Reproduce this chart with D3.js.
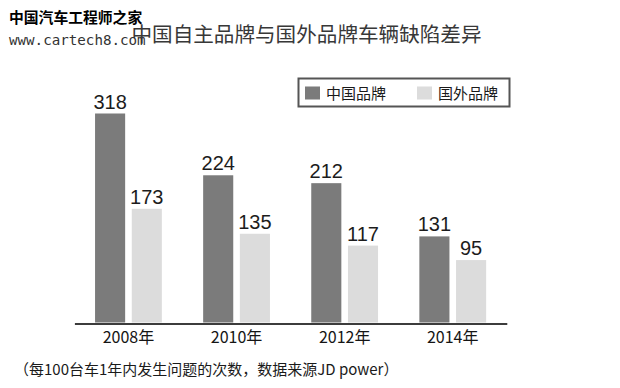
<!DOCTYPE html>
<html>
<head>
<meta charset="utf-8">
<script src="https://cdn.jsdelivr.net/npm/d3@7"></script>
<style>
  html, body { margin: 0; padding: 0; background: #fff; }
  svg { display: block; }
</style>
</head>
<body>
<div id="chart"></div>
<script>
// data
const years = ["2008年", "2010年", "2012年", "2014年"];
const seriesNames = ["中国品牌", "国外品牌"];
const chinaBrands = [318, 224, 212, 131];
const foreignBrands = [173, 135, 117, 95];
const seriesColors = ["#7b7b7b", "#dcdcdc"];

const w = 620, h = 388;
const cjk = "'Noto Sans CJK SC', 'Noto Sans', sans-serif";

const rows = years.map((yr, i) => ({ year: yr, values: [chinaBrands[i], foreignBrands[i]] }));

const svg = d3.select("#chart").append("svg")
  .attr("width", w)
  .attr("height", h)
  .attr("viewBox", [0, 0, w, h]);

//
const x0 = d3.scaleBand().domain(years).range([74.4, 506.8]).padding(0);
const x1 = d3.scaleBand().domain(seriesNames).range([-33.4, 33.4]).paddingInner(0.18);
const y = d3.scaleLinear().domain([0, d3.max(chinaBrands)]).range([322.5, 113.5]);

// bars
const groups = svg.append("g").attr("class", "bars")
  .selectAll("g")
  .data(rows)
  .join("g")
  .attr("transform", d => `translate(${x0(d.year) + x0.bandwidth() / 2},0)`);

groups.selectAll("rect")
  .data(d => d.values.map((v, k) => ({ key: seriesNames[k], value: v, k })))
  .join("rect")
  .attr("x", d => x1(d.key))
  .attr("y", d => y(d.value))
  .attr("width", x1.bandwidth())
  .attr("height", d => y(0) - y(d.value))
  .attr("fill", d => seriesColors[d.k]);

groups.selectAll("text")
  .data(d => d.values.map((v, k) => ({ key: seriesNames[k], value: v })))
  .join("text")
  .attr("x", d => x1(d.key) + x1.bandwidth() / 2)
  .attr("y", d => y(d.value) - 5)
  .attr("text-anchor", "middle")
  .attr("font-family", "'Liberation Sans', Arial, sans-serif")
  .attr("font-size", 20)
  .attr("fill", "#1c1c1c")
  .text(d => d.value);

// x axis
const ax = d3.axisBottom(x0).tickSize(0).tickSizeOuter(0).tickPadding(8);
svg.append("g")
  .attr("class", "ax")
  .attr("transform", `translate(0,${y(0) + 1})`)
  .call(ax)
  .call(g => g.select(".domain").attr("stroke", "#3c3c3c").attr("stroke-width", 2))
  .call(g => g.selectAll(".tick text")
    .attr("font-family", cjk)
    .attr("font-size", 16)
    .attr("fill", "#151515"));

// title
svg.append("text")
  .attr("x", 306.5)
  .attr("y", 42)
  .attr("text-anchor", "middle")
  .attr("font-family", cjk)
  .attr("font-size", 20.6)
  .attr("fill", "#383838")
  .text("中国自主品牌与国外品牌车辆缺陷差异");

// legend
const legend = svg.append("g").attr("class", "legend");
legend.append("rect")
  .attr("x", 298.5).attr("y", 78.5)
  .attr("width", 211).attr("height", 28)
  .attr("fill", "#fff")
  .attr("stroke", "#555")
  .attr("stroke-width", 2);
const legendX = [305, 417];
seriesNames.forEach((name, k) => {
  legend.append("rect")
    .attr("x", legendX[k]).attr("y", 86.5)
    .attr("width", 15).attr("height", 13)
    .attr("fill", seriesColors[k]);
  legend.append("text")
    .attr("x", legendX[k] + 21)
    .attr("y", 98.5)
    .attr("font-family", cjk)
    .attr("font-size", 15)
    .attr("fill", "#1a1a1a")
    .text(name);
});

// footnote
svg.append("text")
  .attr("x", 14)
  .attr("y", 375)
  .attr("font-family", cjk)
  .attr("font-size", 15)
  .attr("fill", "#1a1a1a")
  .text("（每100台车1年内发生问题的次数，数据来源JD power）");

// watermark
svg.append("text")
  .attr("x", 9)
  .attr("y", 23)
  .attr("font-family", cjk)
  .attr("font-weight", "bold")
  .attr("font-size", 14.8)
  .attr("fill", "#000")
  .text("中国汽车工程师之家");
svg.append("text")
  .attr("x", 9)
  .attr("y", 45)
  .attr("font-family", "'DejaVu Sans Mono', monospace")
  .attr("font-size", 14.2)
  .attr("fill", "#333")
  .text("www.cartech8.com");
</script>
</body>
</html>
